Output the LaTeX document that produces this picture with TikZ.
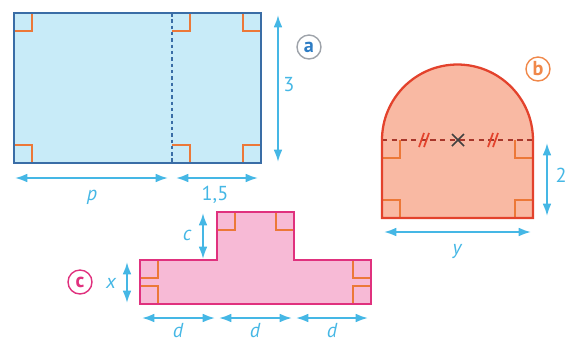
\documentclass[tikz,border=0pt]{standalone}
\usepackage{fontspec}
\setmainfont{PT Sans}
\usepackage{tikz}
\usetikzlibrary{
  arrows.meta,
  positioning,
  calc
}
\definecolor{AFill}{HTML}{C8EBF8}
\definecolor{ALine}{HTML}{3A6DA6}
\definecolor{BFill}{HTML}{F9B9A3}
\definecolor{BLine}{HTML}{E3422C}
\definecolor{BDash}{HTML}{A8362A}
\definecolor{CFill}{HTML}{F7BAD6}
\definecolor{CLine}{HTML}{E0317E}
\definecolor{MarkOrange}{HTML}{EC7838}
\definecolor{DimBlue}{HTML}{45B7E5}
\definecolor{TagGray}{HTML}{9EA3AA}
\definecolor{TagBlue}{HTML}{2E7DC4}
\definecolor{TagOrange}{HTML}{F0884A}
\tikzset{
  % Outline of a figure
  border/.style={draw=#1, line width=1.3pt, line join=miter},
  % Right angle mark
  rt/.style={draw=MarkOrange, line width=1.1pt},
  % Measure arrow, tips at both ends
  dim/.style={
    {Latex[length=7pt,width=5pt]}-{Latex[length=7pt,width=5pt]},
    line width=1.1pt, draw=DimBlue
  },
  % Measure label
  lbl/.style={text=DimBlue, font=\fontsize{11.5}{13}\selectfont, inner sep=1pt},
  % Circled letter of a figure
  tag/.style 2 args={
    circle, draw=#1, text=#2, line width=0.8pt,
    minimum size=0.48cm, inner sep=0pt,
    font=\fontsize{11.5}{13}\selectfont\bfseries
  },
  % Equal parts ticks
  tick/.style={draw=BLine, line width=1pt}
}

\begin{document}
\begin{tikzpicture}[x=0.02cm, y=-0.02cm]
  \useasboundingbox (0,0) rectangle (571,343);

  % Figure a: rectangle cut in two
  \fill[AFill] (14,13) rectangle (261,163);
  \draw[rt] (14,31)   -| (32,13);
  \draw[rt] (14,145)  -| (32,163);
  \draw[rt] (172,31)  -| (190,13);
  \draw[rt] (172,145) -| (190,163);
  \draw[rt] (261,31)  -| (243,13);
  \draw[rt] (261,145) -| (243,163);
  \draw[draw=ALine, line width=1.2pt, dash pattern=on 2pt off 1.6pt] (172,13) -- (172,163);
  \draw[border=ALine] (14,13) rectangle (261,163);

  \coordinate (aTop) at (278,15);
  \coordinate (aBot) at (278,162);
  \coordinate (pL)   at (15,178);
  \coordinate (pR)   at (168,178);
  \coordinate (qL)   at (176,178);
  \coordinate (qR)   at (258,178);
  \draw[dim] (aTop) -- (aBot);
  \draw[dim] (pL) -- (pR);
  \draw[dim] (qL) -- (qR);
  \node[lbl] (three) at (289,85)  {3};
  \node[lbl] (pLbl)  at (92,197)  {\itshape p};
  \node[lbl] (qLbl)  at (215,195) {1,5};
  \node[tag={TagGray}{TagBlue}] (tagA) at (309,47) {a};

  % Figure b: rectangle with half disc on top
  \fill[BFill] (382,218) -- (382,140) arc[start angle=180, end angle=0, radius=1.51cm]
    -- (533,218) -- cycle;
  \draw[rt] (382,158) -| (400,140);
  \draw[rt] (533,158) -| (515,140);
  \draw[rt] (382,200) -| (400,218);
  \draw[rt] (533,200) -| (515,218);
  \draw[draw=BDash, line width=0.9pt, dash pattern=on 3pt off 2.5pt] (382,140) -- (533,140);
  \draw[tick] (419,147) -- (424,133) (424,147) -- (429,133);
  \draw[tick] (488,147) -- (493,133) (493,147) -- (498,133);
  \draw[draw=black!75, line width=0.9pt] (452,134) -- (464,146) (452,146) -- (464,134);
  \draw[border=BLine] (382,218) -- (382,140) arc[start angle=180, end angle=0, radius=1.51cm]
    -- (533,218) -- cycle;

  \coordinate (bTop) at (547,143);
  \coordinate (bBot) at (547,216);
  \coordinate (yL)   at (384,232);
  \coordinate (yR)   at (531,232);
  \draw[dim] (bTop) -- (bBot);
  \draw[dim] (yL) -- (yR);
  \node[lbl] (two)  at (561,175) {2};
  \node[lbl] (yLbl) at (457,252) {\itshape y};
  \node[tag={TagOrange}{TagOrange}] (tagB) at (538,69) {b};

  % Figure c: T shape
  \fill[CFill] (140,304) -- (140,260) -- (217,260) -- (217,212) -- (294,212)
    -- (294,260) -- (371,260) -- (371,304) -- cycle;
  \draw[rt] (217,230) -| (235,212);
  \draw[rt] (294,230) -| (276,212);
  \draw[rt] (140,278) -| (158,260);
  \draw[rt] (140,286) -| (158,304);
  \draw[rt] (371,278) -| (353,260);
  \draw[rt] (371,286) -| (353,304);
  \draw[border=CLine] (140,304) -- (140,260) -- (217,260) -- (217,212) -- (294,212)
    -- (294,260) -- (371,260) -- (371,304) -- cycle;

  \coordinate (cTop) at (203,213);
  \coordinate (cBot) at (203,259);
  \coordinate (xTop) at (127,262);
  \coordinate (xBot) at (127,303);
  \draw[dim] (cTop) -- (cBot);
  \draw[dim] (xTop) -- (xBot);
  \foreach \a/\b in {142/215, 219/292, 296/368}
    \draw[dim] (\a,318) -- (\b,318);
  \node[lbl] (cLbl) at (187,235) {\itshape c};
  \node[lbl] (xLbl) at (111,283) {\itshape x};
  \foreach \n/\xx in {1/178, 2/255, 3/332}
    \node[lbl] (d\n) at (\xx,331) {\itshape d};
  \node[tag={CLine}{CLine}] (tagC) at (80,282) {c};

\end{tikzpicture}
\end{document}
